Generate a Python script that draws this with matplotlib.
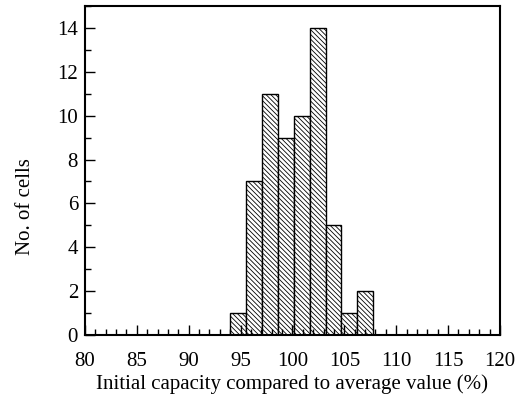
import matplotlib
matplotlib.use("Agg")
import matplotlib.pyplot as plt
from matplotlib.ticker import MultipleLocator

# histogram
bin_edges = [94.0, 95.5, 97.05, 98.6, 100.15, 101.7, 103.2, 104.7, 106.2, 107.72]
counts = [1, 7, 11, 9, 10, 14, 5, 1, 2]

plt.rcParams['font.family'] = ['Liberation Serif', 'DejaVu Serif']
plt.rcParams['hatch.linewidth'] = 0.6

fig = plt.figure(figsize=(5.23, 4.04), dpi=100)
ax = fig.add_axes([0.1625, 0.171, 0.7935, 0.814])

lefts = bin_edges[:-1]
widths = [b - a for a, b in zip(bin_edges[:-1], bin_edges[1:])]
ax.bar(lefts, counts, width=widths, align='edge', facecolor='white',
       edgecolor='black', linewidth=1.0, hatch='\\' * 7)

ax.set_xlim(80, 120)
ax.set_ylim(0, 15)
ax.xaxis.set_major_locator(MultipleLocator(5))
ax.xaxis.set_minor_locator(MultipleLocator(1))
ax.yaxis.set_major_locator(MultipleLocator(2))
ax.yaxis.set_minor_locator(MultipleLocator(1))
ax.tick_params(which='both', direction='in', labelsize=15, width=1.0)
ax.tick_params(which='major', length=7)
ax.tick_params(which='minor', length=4)
ax.tick_params(axis='x', pad=12)
ax.tick_params(axis='y', pad=5)
for s in ax.spines.values():
    s.set_linewidth(1.5)

ax.set_xlabel('Initial capacity compared to average value (%)', fontsize=15, labelpad=3)
ax.set_ylabel('No. of cells', fontsize=15)
ax.yaxis.set_label_coords(-0.12, 0.39)

fig.savefig('out.png', dpi=100)
